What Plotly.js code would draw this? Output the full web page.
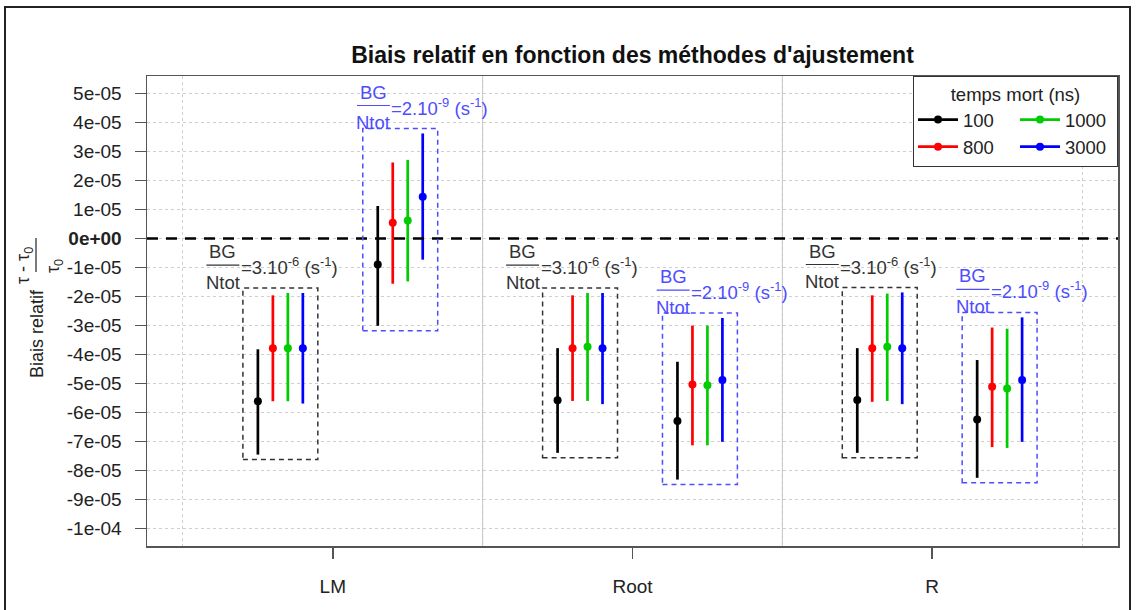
<!DOCTYPE html>
<html>
<head>
<meta charset="utf-8">
<script src="https://cdn.plot.ly/plotly-3.0.1.min.js"></script>
<style>
  html, body { margin: 0; padding: 0; background: #fff; }
  #chart { width: 1137px; height: 610px; }
  #frame { position: absolute; left: 4px; top: 6px; width: 1127px; height: 700px;
           box-sizing: border-box; border: 2px solid #222; pointer-events: none; }
</style>
</head>
<body>
<div id="chart"></div>
<div id="frame"></div>
<script>
// ---------------- data (values in units of 1e-5) ----------------
const methods = ['LM', 'Root', 'R'];
const deadTimes = ['100', '800', '1000', '3000'];
const seriesColors = ['#000000', '#ff0000', '#00cc00', '#0000ff'];
const bgLabels = ['3.10<sup>-6</sup>', '2.10<sup>-9</sup>'];
const bgColors = ['#333333', '#4d4dff'];
const UNIT = 1e-5;

// BG/Ntot = 3.10^-6 ; rows = dead time (100, 800, 1000, 3000), cols = LM, Root, R
const biasBG1 = [[-5.61, -5.58, -5.57], [-3.78, -3.78, -3.78], [-3.78, -3.73, -3.73], [-3.78, -3.78, -3.78]];
const lowBG1  = [[-7.45, -7.39, -7.39], [-5.61, -5.60, -5.63], [-5.61, -5.60, -5.60], [-5.69, -5.71, -5.71]];
const highBG1 = [[-3.82, -3.78, -3.78], [-1.96, -1.96, -1.96], [-1.88, -1.88, -1.90], [-1.88, -1.88, -1.86]];
// BG/Ntot = 2.10^-9
const biasBG2 = [[-0.90, -6.29, -6.24], [0.54, -5.03, -5.11], [0.62, -5.06, -5.17], [1.44, -4.88, -4.88]];
const lowBG2  = [[-3.01, -8.31, -8.25], [-1.56, -7.13, -7.19], [-1.48, -7.13, -7.22], [-0.73, -7.01, -7.01]];
const highBG2 = [[1.12, -4.25, -4.19], [2.62, -3.00, -3.07], [2.71, -3.00, -3.11], [3.62, -2.74, -2.72]];

const yTickVals = [-10, -9, -8, -7, -6, -5, -4, -3, -2, -1, 0, 1, 2, 3, 4, 5];
const yTickText = ['-1e-04', '-9e-05', '-8e-05', '-7e-05', '-6e-05', '-5e-05', '-4e-05', '-3e-05',
                   '-2e-05', '-1e-05', '<b>0e+00</b>', '1e-05', '2e-05', '3e-05', '4e-05', '5e-05'];

// ---------------- layout helpers ----------------
const bias = [biasBG1, biasBG2], low = [lowBG1, lowBG2], high = [highBG1, highBG2];
const groupStart = [-0.25, 0.15];   // x offset of first series in each BG block
const step = 0.05;                  // spacing between series
const labelShiftPx = [-20, 10.7];   // fraction centre relative to box left edge (px)
const legendGroups = ['a', 'a', 'b', 'b'];

const L = 147, R = 19, T = 76, B = 64, W = 1137, H = 610;
const pw = W - L - R, ph = H - T - B;
const px2x = p => (p - L) / pw;
const px2y = p => (H - B - p) / ph;

const traces = [];
deadTimes.forEach((dt, k) => {
  const x = [], y = [], up = [], dn = [];
  methods.forEach((m, mi) => {
    [0, 1].forEach(b => {
      const v = bias[b][k][mi];
      x.push(mi + 1 + groupStart[b] + step * k);
      y.push(v * UNIT);
      up.push((high[b][k][mi] - v) * UNIT);
      dn.push((v - low[b][k][mi]) * UNIT);
      x.push(null); y.push(null); up.push(null); dn.push(null);
    });
  });
  traces.push({
    type: 'scatter', mode: 'lines+markers', name: dt, x, y, connectgaps: false,
    legendgroup: legendGroups[k],
    line: { color: seriesColors[k], width: 2.7 },
    marker: { color: seriesColors[k], size: 8 },
    error_y: { type: 'data', symmetric: false, array: up, arrayminus: dn,
               color: seriesColors[k], thickness: 2.7, width: 0 },
    hoverinfo: 'x+y'
  });
});

const shapes = [];
const annotations = [];

// separators between methods (solid) and zero line (dashed)
[1.5, 2.5].forEach(xv => shapes.push({ type: 'line', xref: 'x', yref: 'paper', x0: xv, x1: xv, y0: 0, y1: 1,
  line: { color: '#bdbdbd', width: 1 }, layer: 'below' }));
shapes.push({ type: 'line', xref: 'paper', yref: 'y', x0: 0, x1: 1, y0: 0, y1: 0,
  line: { color: '#000', width: 2.5, dash: '11px,8px' }, layer: 'above' });

// dashed boxes + BG/Ntot labels
methods.forEach((m, mi) => {
  [0, 1].forEach(b => {
    let top = -Infinity, bot = Infinity;
    deadTimes.forEach((dt, k) => { top = Math.max(top, high[b][k][mi]); bot = Math.min(bot, low[b][k][mi]); });
    top += 0.17; bot -= 0.17;
    const xL = mi + 1 + groupStart[b] - step;
    const xR = mi + 1 + groupStart[b] + step * deadTimes.length;
    shapes.push({ type: 'rect', xref: 'x', yref: 'y', x0: xL, x1: xR, y0: bot * UNIT, y1: top * UNIT,
      line: { color: bgColors[b], width: 1.5, dash: '5px,4px' }, fillcolor: 'rgba(0,0,0,0)' });
    // fraction bar
    shapes.push({ type: 'line', xref: 'x', yref: 'y', xsizemode: 'pixel', ysizemode: 'pixel',
      xanchor: xL, yanchor: top * UNIT,
      x0: labelShiftPx[b] - 16.5, x1: labelShiftPx[b] + 16.5, y0: 23, y1: 23,
      line: { color: bgColors[b], width: 1.2 } });
    const fc = { color: bgColors[b], size: 18.5 };
    annotations.push({ xref: 'x', yref: 'y', x: xL, y: top * UNIT, text: 'BG', showarrow: false,
      xanchor: 'center', yanchor: 'middle', xshift: labelShiftPx[b], yshift: 36.5, font: fc });
    annotations.push({ xref: 'x', yref: 'y', x: xL, y: top * UNIT, text: 'Ntot', showarrow: false,
      xanchor: 'center', yanchor: 'middle', xshift: labelShiftPx[b], yshift: 6, font: fc });
    annotations.push({ xref: 'x', yref: 'y', x: xL, y: top * UNIT,
      text: '=' + bgLabels[b] + ' (s<sup>-1</sup>)', showarrow: false,
      xanchor: 'left', yanchor: 'middle', xshift: labelShiftPx[b] + 16, yshift: 22, font: fc });
  });
});

// y-axis title: "Biais relatif" + (tau - tau0)/tau0
const yt = { color: '#222', size: 18 };
annotations.push({ xref: 'paper', yref: 'paper', x: px2x(37), y: px2y(334), text: 'Biais relatif',
  textangle: -90, showarrow: false, xanchor: 'center', yanchor: 'middle', font: yt });
annotations.push({ xref: 'paper', yref: 'paper', x: px2x(24), y: px2y(266), text: 'τ - τ<sub>0</sub>',
  textangle: -90, showarrow: false, xanchor: 'center', yanchor: 'middle', font: yt });
annotations.push({ xref: 'paper', yref: 'paper', x: px2x(54), y: px2y(266), text: 'τ<sub>0</sub>',
  textangle: -90, showarrow: false, xanchor: 'center', yanchor: 'middle', font: yt });
shapes.push({ type: 'line', xref: 'paper', yref: 'paper', x0: px2x(36), x1: px2x(36),
  y0: px2y(238), y1: px2y(272), line: { color: '#222', width: 1.2 } });

const layout = {
  width: W, height: H,
  margin: { l: L, r: R, t: T, b: B, pad: 0 },
  paper_bgcolor: '#fff', plot_bgcolor: '#fff',
  font: { family: '"Liberation Sans", Arial, sans-serif', size: 19, color: '#222' },
  title: { text: "<b>Biais relatif en fonction des méthodes d'ajustement</b>",
    font: { size: 23, color: '#111' }, x: 0.5, xref: 'paper', xanchor: 'center',
    y: 1 - 55 / H, yref: 'container', yanchor: 'middle' },
  xaxis: { range: [0.38, 3.62], tickmode: 'array', tickvals: [1, 2, 3], ticktext: methods,
    ticks: 'outside', ticklen: 11, tickwidth: 1.5, tickcolor: '#555',
    showline: true, mirror: true, linecolor: '#555', linewidth: 1.5,
    showgrid: false, zeroline: false, ticklabelstandoff: 12,
    minor: { tickmode: 'array', tickvals: [0.5, 1.5, 2.5, 3.5], showgrid: true,
      griddash: 'dot', gridcolor: '#cfcfcf', gridwidth: 1, ticks: '' } },
  yaxis: { range: [-10.6 * UNIT, 5.6 * UNIT], tickmode: 'array',
    tickvals: yTickVals.map(v => v * UNIT), ticktext: yTickText,
    ticks: 'outside', ticklen: 11, tickwidth: 1.5, tickcolor: '#555',
    showline: true, mirror: true, linecolor: '#555', linewidth: 1.5,
    showgrid: true, griddash: 'dot', gridcolor: '#cfcfcf', gridwidth: 1,
    zeroline: false, ticklabelstandoff: 9 },
  legend: { orientation: 'h', traceorder: 'grouped', x: 1, xanchor: 'right', y: 1, yanchor: 'top',
    bgcolor: '#fff', bordercolor: '#333', borderwidth: 1, entrywidth: 47, entrywidthmode: 'pixels',
    title: { text: 'temps mort (ns)', side: 'top center', font: { size: 18.5 } },
    font: { size: 18.5, color: '#222' }, tracegroupgap: 0, itemwidth: 40 },
  showlegend: true,
  shapes, annotations
};

Plotly.newPlot('chart', traces, layout, { displayModeBar: false, staticPlot: true });
</script>
</body>
</html>
